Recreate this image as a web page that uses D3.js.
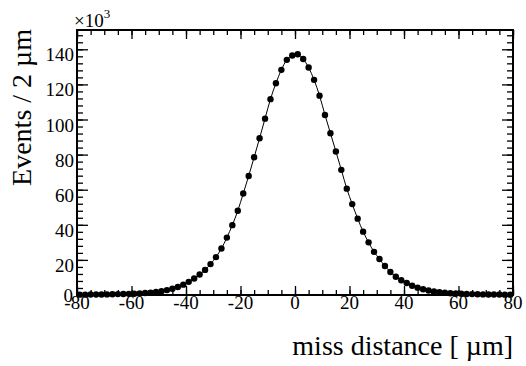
<!DOCTYPE html>
<html>
<head>
<meta charset="utf-8">
<script src="https://cdn.jsdelivr.net/npm/d3@7"></script>
<style>
  body { margin: 0; background: #fff; }
  svg { display: block; font-family: "Liberation Serif", "DejaVu Serif", serif; }
</style>
</head>
<body>
<script>
// bin centres of the 2 um histogram
var binCentres = d3.range(-79, 80, 2);
// events per bin, in thousands
var events = [
    0.2, 0.2, 0.25, 0.3, 0.3, 0.35, 0.4, 0.5, 0.55, 0.65,
    0.75, 0.9, 1.1, 1.3, 1.7, 2.2, 2.8, 3.6, 4.6, 5.9,
    7.5, 9.4, 11.7, 14.3, 17.6, 21.6, 26.5, 32.7, 39.8, 48,
    57.8, 67.8, 78.5, 89.3, 100.5, 111.6, 120.7, 128.3, 134, 136.5,
    137.2, 134.5, 129.6, 122.6, 113.6, 102.6, 92.2, 81.8, 71.3, 60.6,
    51.8, 43.5, 36.1, 30, 24.6, 20.5, 16.5, 13.1, 10.4, 8.4,
    6.8, 5.3, 4.2, 3.3, 2.6, 2.0, 1.6, 1.3, 1.0, 0.85,
    0.7, 0.6, 0.5, 0.4, 0.35, 0.3, 0.3, 0.25, 0.2, 0.2
];
var xMajor = d3.range(-80, 81, 20);
var xMinor = d3.range(-80, 81, 5);
var yMajor = d3.range(0, 141, 20);
var yMinor = d3.range(0, 151, 4);

var W = 526, H = 366;
var margin = {left: 77, right: 13, top: 30, bottom: 71};
var w = W - margin.left - margin.right,
    h = H - margin.top - margin.bottom;

var svg = d3.select("body").append("svg")
    .attr("width", W)
    .attr("height", H);

var g = svg.append("g")
    .attr("transform", "translate(" + margin.left + "," + margin.top + ")");

var x = d3.scaleLinear().domain([-80, 80]).range([0, w]);
var y = d3.scaleLinear().domain([0, 151]).range([h, 0]);

function ticks(axis, size, values, transform) {
    var a = g.append("g")
        .attr("transform", transform || null)
        .call(axis.tickValues(values).tickSize(size).tickFormat(""));
    a.select(".domain").remove();
    a.selectAll("line").attr("stroke", "#000").attr("stroke-width", 1.3);
}

// ticks on all four sides, pointing inwards
ticks(d3.axisTop(x), 9, xMajor, "translate(0," + h + ")");
ticks(d3.axisTop(x), 5, xMinor, "translate(0," + h + ")");
ticks(d3.axisBottom(x), 9, xMajor);
ticks(d3.axisBottom(x), 5, xMinor);
ticks(d3.axisRight(y), 11, yMajor);
ticks(d3.axisRight(y), 6, yMinor);
ticks(d3.axisLeft(y), 11, yMajor, "translate(" + w + ",0)");
ticks(d3.axisLeft(y), 6, yMinor, "translate(" + w + ",0)");

// fit curve
var line = d3.line()
    .x(function(d, i) { return x(binCentres[i]); })
    .y(function(d) { return y(d); })
    .curve(d3.curveCatmullRom);

g.append("path")
    .datum(events)
    .attr("d", line)
    .attr("fill", "none")
    .attr("stroke", "#000")
    .attr("stroke-width", 1);

g.selectAll(".pt")
    .data(events)
    .enter().append("circle")
        .attr("class", "pt")
        .attr("cx", function(d, i) { return x(binCentres[i]); })
        .attr("cy", function(d) { return y(d); })
        .attr("r", 3.2)
        .attr("fill", "#000");

// frame
g.append("rect")
    .attr("width", w)
    .attr("height", h)
    .attr("fill", "none")
    .attr("stroke", "#000")
    .attr("stroke-width", 2);

// tick labels
g.selectAll(".xlab")
    .data(xMajor)
    .enter().append("text")
        .attr("x", function(d) { return x(d); })
        .attr("y", h + 14)
        .attr("text-anchor", "middle")
        .attr("font-size", 19)
        .text(function(d) { return d; });

g.selectAll(".ylab")
    .data(yMajor)
    .enter().append("text")
        .attr("x", function(d) { return d === 0 ? -4 : -3; })
        .attr("y", function(d) { return d === 0 ? y(d) + 7 : y(d) + 12; })
        .attr("text-anchor", "end")
        .attr("font-size", 19)
        .text(function(d) { return d; });

// exponent
var ex = svg.append("text")
    .attr("x", 74)
    .attr("y", 27)
    .attr("font-size", 19);
ex.append("tspan").text("\u00d710");
ex.append("tspan").attr("font-size", 13).attr("dy", -9).text("3");

// axis titles
svg.append("text")
    .attr("x", margin.left + w)
    .attr("y", 355)
    .attr("text-anchor", "end")
    .attr("font-size", 28)
    .text("miss distance [ \u00b5m]");

svg.append("text")
    .attr("transform", "translate(31," + (margin.top - 1) + ") rotate(-90)")
    .attr("text-anchor", "end")
    .attr("font-size", 28)
    .text("Events / 2 \u00b5m");
</script>
</body>
</html>
